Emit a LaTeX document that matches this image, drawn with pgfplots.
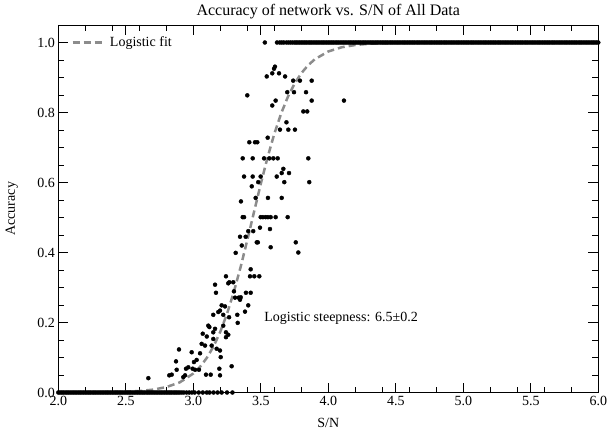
\documentclass[border=0pt]{standalone}
\usepackage{pgfplots}
\pgfplotsset{compat=1.18}
\usepackage{fontspec}
\setmainfont{Liberation Serif}

% points in between 0 and 1
\pgfplotstableread{
x y
3.605 0.931
3.598 0.925
3.544 0.903
3.585 0.912
3.635 0.912
3.680 0.903
3.740 0.891
3.790 0.891
3.877 0.891
3.400 0.849
3.696 0.858
3.746 0.858
3.835 0.858
3.610 0.834
3.585 0.820
3.877 0.834
4.116 0.834
3.815 0.803
3.844 0.803
3.690 0.772
3.642 0.751
3.704 0.751
3.753 0.751
3.551 0.728
3.415 0.715
3.457 0.715
3.474 0.715
3.366 0.669
3.440 0.669
3.524 0.669
3.563 0.669
3.593 0.669
3.625 0.669
3.852 0.669
3.667 0.639
3.376 0.617
3.440 0.617
3.499 0.617
3.618 0.617
3.655 0.627
3.709 0.627
3.433 0.589
3.481 0.601
3.674 0.601
3.859 0.601
3.353 0.546
3.462 0.556
3.553 0.556
3.655 0.556
3.366 0.501
3.376 0.501
3.499 0.501
3.516 0.501
3.536 0.501
3.553 0.501
3.573 0.501
3.610 0.501
3.699 0.501
3.494 0.471
3.568 0.467
3.407 0.461
3.444 0.461
3.346 0.445
3.388 0.445
3.470 0.429
3.478 0.429
3.759 0.429
3.359 0.420
3.573 0.415
3.778 0.400
3.425 0.352
3.420 0.332
3.452 0.332
3.489 0.332
3.390 0.285
3.425 0.285
3.351 0.272
3.314 0.399
3.242 0.332
3.267 0.315
3.259 0.312
3.161 0.308
3.296 0.315
3.168 0.285
3.301 0.289
3.309 0.271
3.346 0.265
3.336 0.271
3.210 0.249
3.235 0.246
3.407 0.249
3.185 0.230
3.198 0.234
3.148 0.222
3.222 0.222
3.326 0.222
3.383 0.231
3.265 0.215
3.111 0.191
3.119 0.187
3.161 0.182
3.148 0.172
3.222 0.191
3.242 0.172
3.259 0.165
3.242 0.158
3.329 0.199
3.070 0.168
3.100 0.160
3.148 0.153
3.062 0.139
3.087 0.134
3.136 0.134
3.173 0.125
3.198 0.120
3.203 0.101
3.284 0.075
2.894 0.123
2.872 0.089
2.877 0.065
2.822 0.049
2.840 0.051
2.667 0.041
2.926 0.044
2.939 0.049
2.946 0.068
2.963 0.072
2.988 0.115
3.005 0.087
3.025 0.093
2.995 0.068
3.013 0.065
3.042 0.065
3.050 0.112
3.094 0.051
3.129 0.051
3.198 0.049
3.193 0.068
}\midpts

% logistic fit, steepness 6.5, centre 3.44
\pgfplotstableread{
x y
2.00 0.0001
2.20 0.0003
2.40 0.0012
2.50 0.0022
2.60 0.0042
2.70 0.0081
2.80 0.0154
2.90 0.0290
3.00 0.0542
3.05 0.0734
3.10 0.0988
3.15 0.1318
3.20 0.1736
3.25 0.2253
3.30 0.2870
3.35 0.3578
3.40 0.4354
3.45 0.5162
3.50 0.5963
3.55 0.6715
3.60 0.7389
3.65 0.7966
3.70 0.8442
3.75 0.8824
3.80 0.9121
3.85 0.9349
3.90 0.9521
4.00 0.9744
4.10 0.9865
4.20 0.9929
4.30 0.9963
4.40 0.9981
4.50 0.9990
4.70 0.9997
5.00 1.0000
6.00 1.0000
}\fitpts

\begin{document}
\begin{tikzpicture}
\begin{axis}[
    scale only axis,
    width=540pt, height=367.5pt,
    xmin=2, xmax=6, ymin=0, ymax=1.05,
    xtick={2.0,2.5,...,6.0},
    ytick={0,0.2,...,1.0},
    minor xtick={2.2,2.4,2.6,2.8,3.2,3.4,3.6,3.8,4.2,4.4,4.6,4.8,5.2,5.4,5.6,5.8},
    minor ytick={0.05,0.1,...,1.05},
    tick align=inside,
    major tick length=10pt, minor tick length=6pt,
    every tick/.style={black, line width=0.8pt},
    axis line style={line width=0.8pt},
    xticklabel style={/pgf/number format/.cd, fixed, fixed zerofill, precision=1},
    yticklabel style={/pgf/number format/.cd, fixed, fixed zerofill, precision=1},
    /pgf/number format/assume math mode=true,
    ticklabel style={font=\fontsize{14}{16}\selectfont},
    label style={font=\fontsize{14}{16}\selectfont},
    every axis title/.style={at={(0.5,1.036)}, anchor=center, font=\fontsize{16}{18}\selectfont},
    title={Accuracy of network vs. S/N of All Data},
    xlabel={S/N},
    ylabel={Accuracy},
    xlabel style={at={(0.5,-0.083)}, anchor=center},
    ylabel style={at={(-0.086,0.5)}, anchor=center},
    legend style={at={(0.024,0.952)}, anchor=west, draw=none, fill=none,
        inner sep=0pt, font=\fontsize{14}{16}\selectfont,
        /tikz/every odd column/.append style={column sep=5pt}},
    legend cell align=left,
    legend image code/.code={\draw[#1] (0pt,0pt) -- (29pt,0pt);},
]
% accuracy 0 row
\addplot[only marks, mark=*, mark size=2pt, black, forget plot] coordinates {
(2.0,0) (2.0125,0) (2.025,0) (2.0375,0) (2.05,0) (2.0625,0) (2.075,0) (2.0875,0)
(2.1,0) (2.1125,0) (2.125,0) (2.1375,0) (2.15,0) (2.1625,0) (2.175,0) (2.1875,0)
(2.2,0) (2.2125,0) (2.225,0) (2.2375,0) (2.25,0) (2.2625,0) (2.275,0) (2.2875,0)
(2.3,0) (2.3125,0) (2.325,0) (2.3375,0) (2.35,0) (2.3625,0) (2.375,0) (2.3875,0)
(2.4,0) (2.4125,0) (2.425,0) (2.4375,0) (2.45,0) (2.4625,0) (2.475,0) (2.4875,0)
(2.5,0) (2.5125,0) (2.525,0) (2.5375,0) (2.55,0) (2.5625,0) (2.575,0) (2.5875,0)
(2.6,0) (2.6125,0) (2.625,0) (2.6375,0) (2.65,0) (2.6625,0) (2.675,0) (2.6875,0)
(2.7,0) (2.7125,0) (2.725,0) (2.7375,0) (2.75,0) (2.7625,0) (2.775,0) (2.7875,0)
(2.8,0) (2.8125,0) (2.825,0) (2.8375,0) (2.85,0) (2.8625,0) (2.875,0) (2.8875,0)
(2.9,0) (2.915,0) (2.93,0) (2.95,0) (2.97,0) (2.99,0) (3.01,0) (3.04,0)
(3.07,0) (3.10,0) (3.12,0) (3.15,0) (3.18,0) (3.21,0) (3.25,0) (3.29,0)
};
% accuracy 1 row
\addplot[only marks, mark=*, mark size=2pt, black, forget plot] coordinates {
(3.53,1) (3.62,1) (3.64,1) (3.655,1) (3.67,1) (3.69,1) (3.705,1) (3.72,1) (3.735,1)
(3.75,1) (3.7625,1) (3.775,1) (3.7875,1)
(3.8,1) (3.8125,1) (3.825,1) (3.8375,1) (3.85,1) (3.8625,1) (3.875,1) (3.8875,1)
(3.9,1) (3.9125,1) (3.925,1) (3.9375,1) (3.95,1) (3.9625,1) (3.975,1) (3.9875,1)
(4.0,1) (4.0125,1) (4.025,1) (4.0375,1) (4.05,1) (4.0625,1) (4.075,1) (4.0875,1)
(4.1,1) (4.1125,1) (4.125,1) (4.1375,1) (4.15,1) (4.1625,1) (4.175,1) (4.1875,1)
(4.2,1) (4.2125,1) (4.225,1) (4.2375,1) (4.25,1) (4.2625,1) (4.275,1) (4.2875,1)
(4.3,1) (4.3125,1) (4.325,1) (4.3375,1) (4.35,1) (4.3625,1) (4.375,1) (4.3875,1)
(4.4,1) (4.4125,1) (4.425,1) (4.4375,1) (4.45,1) (4.4625,1) (4.475,1) (4.4875,1)
(4.5,1) (4.5125,1) (4.525,1) (4.5375,1) (4.55,1) (4.5625,1) (4.575,1) (4.5875,1)
(4.6,1) (4.6125,1) (4.625,1) (4.6375,1) (4.65,1) (4.6625,1) (4.675,1) (4.6875,1)
(4.7,1) (4.7125,1) (4.725,1) (4.7375,1) (4.75,1) (4.7625,1) (4.775,1) (4.7875,1)
(4.8,1) (4.8125,1) (4.825,1) (4.8375,1) (4.85,1) (4.8625,1) (4.875,1) (4.8875,1)
(4.9,1) (4.9125,1) (4.925,1) (4.9375,1) (4.95,1) (4.9625,1) (4.975,1) (4.9875,1)
(5.0,1) (5.0125,1) (5.025,1) (5.0375,1) (5.05,1) (5.0625,1) (5.075,1) (5.0875,1)
(5.1,1) (5.1125,1) (5.125,1) (5.1375,1) (5.15,1) (5.1625,1) (5.175,1) (5.1875,1)
(5.2,1) (5.2125,1) (5.225,1) (5.2375,1) (5.25,1) (5.2625,1) (5.275,1) (5.2875,1)
(5.3,1) (5.3125,1) (5.325,1) (5.3375,1) (5.35,1) (5.3625,1) (5.375,1) (5.3875,1)
(5.4,1) (5.4125,1) (5.425,1) (5.4375,1) (5.45,1) (5.4625,1) (5.475,1) (5.4875,1)
(5.5,1) (5.5125,1) (5.525,1) (5.5375,1) (5.55,1) (5.5625,1) (5.575,1) (5.5875,1)
(5.6,1) (5.6125,1) (5.625,1) (5.6375,1) (5.65,1) (5.6625,1) (5.675,1) (5.6875,1)
(5.7,1) (5.7125,1) (5.725,1) (5.7375,1) (5.75,1) (5.7625,1) (5.775,1) (5.7875,1)
(5.8,1) (5.8125,1) (5.825,1) (5.8375,1) (5.85,1) (5.8625,1) (5.875,1) (5.8875,1)
(5.9,1) (5.9125,1) (5.925,1) (5.9375,1) (5.95,1) (5.9625,1) (5.975,1) (5.9875,1)
(6.0,1)
};
\addplot[only marks, mark=*, mark size=2pt, black, forget plot] table {\midpts};
\addplot[gray!90, line width=2.5pt, dash pattern=on 7pt off 4pt] table {\fitpts};
\addlegendentry{Logistic fit}
\node[anchor=west, font=\fontsize{14}{16}\selectfont] at (axis cs:3.5,0.212) {Logistic steepness: 6.5±0.2};
\end{axis}
\pgfresetboundingbox
\path[use as bounding box] (-58.3pt,-39.5pt) rectangle (549.7pt,392.5pt);
\end{tikzpicture}
\end{document}
